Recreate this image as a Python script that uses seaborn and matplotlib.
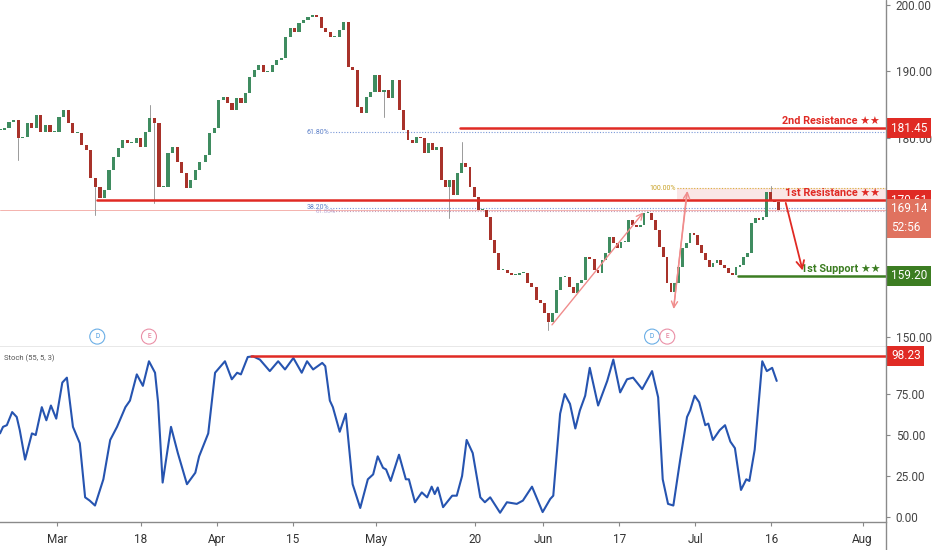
import numpy as np
import pandas as pd
import matplotlib
matplotlib.use("Agg")
import matplotlib.pyplot as plt
import matplotlib.transforms as mtransforms
from matplotlib.lines import Line2D
import seaborn as sns

# trading calendar (US market, 2019) used for the date ticks
holidays = ["2019-02-18", "2019-04-19", "2019-05-27", "2019-07-04"]
tick_dates = ["2019-03-01", "2019-03-18", "2019-04-01", "2019-04-15", "2019-05-01",
              "2019-05-20", "2019-06-03", "2019-06-17", "2019-07-01", "2019-07-16", "2019-08-01"]
tick_labels = ["Mar", "18", "Apr", "15", "May", "20", "Jun", "17", "Jul", "16", "Aug"]

# closes, four stretches (trading days from Mar 1)
span_a = (-7.5, 18.8)
close_a = [181.2, 181.5, 182.4, 182.7, 180.0, 180.1, 182.2, 181.5, 183.4, 180.9, 181.9, 180.9,
           180.9, 183.1, 184.2, 182.2, 180.7, 180.7, 178.9, 178.2, 173.9, 172.6, 170.9, 172.1,
           175.2, 177.1, 178.5, 179.7, 179.2, 179.2, 180.0, 178.6, 180.9, 183.0, 182.2, 172.6,
           172.6, 177.7, 178.6, 176.4, 174.7, 172.4, 173.6, 175.2, 176.4]
span_b = (19.5, 44.2)
close_b = [177.4, 180.7, 181.5, 185.7, 186.1, 185.2, 184.2, 186.0, 185.2, 186.7, 189.2, 190.2,
           191.0, 189.9, 189.9, 191.0, 191.7, 192.0, 195.2, 196.5, 195.9, 197.3, 197.7, 198.2,
           198.5, 198.2, 196.5, 195.9, 195.2, 195.2, 196.2, 197.4, 190.7, 190.2, 184.6, 183.7,
           186.1, 186.9, 189.5, 186.9, 187.2, 186.0, 188.7]
span_c = (45.1, 70.1)
close_c = [184.2, 181.2, 179.7, 179.2, 180.1, 180.0, 177.7, 179.2, 178.2, 178.6, 173.6, 172.6,
           173.6, 171.4, 174.7, 176.2, 175.6, 172.6, 171.1, 169.1, 169.1, 168.1, 164.6, 162.7,
           160.1, 160.1, 159.6, 159.3, 159.3, 159.6, 159.6, 158.1, 157.5, 155.6, 155.1, 153.6,
           152.3, 153.6, 157.1, 159.0, 159.0, 157.5, 156.6, 158.1, 158.6, 162.0, 161.8]
span_d = (70.7, 94.9)
close_d = [160.1, 159.6, 161.6, 162.7, 165.1, 164.2, 163.4, 164.3, 164.3, 167.6, 166.9, 166.6,
           166.9, 168.7, 168.7, 167.6, 166.1, 163.6, 162.0, 158.1, 156.8, 158.1, 160.5, 163.4,
           164.2, 165.7, 165.4, 163.9, 162.7, 161.6, 160.5, 161.1, 161.6, 160.8, 160.4, 159.6,
           159.3, 160.5, 160.8, 162.0, 162.7, 167.2, 167.9, 167.6, 168.1, 171.8, 170.6, 170.3, 169.1]

# long wicks visible on the chart
spike_day = [-5.1, 5.3, 12.0, 12.9, 43.2, 51.7, 53.2, 64.9, 93.7]
spike_price = [176.7, 168.4, 184.9, 170.2, 183.1, 167.9, 179.4, 151.1, 172.7]

# stochastic (55, 5, 3)
stoch_day = [-7.5, -7.1, -6.6, -5.9, -5.3, -4.9, -4.2, -3.3, -2.8, -2.0, -1.4, -0.8, -0.1, 0.7,
             1.3, 2.1, 3.0, 3.7, 4.3, 5.0, 6.1, 7.0, 7.9, 9.0, 9.6, 10.5, 11.3, 12.1, 12.9, 13.3,
             13.9, 15.0, 15.9, 17.1, 18.2, 18.7, 19.9, 20.8, 22.1, 23.0, 23.7, 24.2, 25.1, 25.8,
             26.7, 28.0, 29.1, 30.0, 31.1, 32.2, 32.9, 33.7, 34.9, 35.3, 35.9, 36.3, 37.2, 38.0,
             38.9, 39.9, 40.9, 41.6, 42.2, 42.9, 43.3, 43.9, 45.0, 45.9, 46.3, 47.1, 48.0, 48.7,
             49.3, 49.7, 50.1, 50.8, 52.0, 52.6, 53.3, 53.9, 54.7, 55.7, 56.3, 57.0, 58.3, 59.2,
             60.5, 61.3, 62.5, 63.9, 64.9, 65.3, 66.2, 66.8, 67.5, 68.2, 68.8, 69.5, 70.1, 71.2,
             72.4, 73.2, 74.1, 75.0, 75.8, 77.0, 78.3, 79.1, 79.7, 80.4, 81.1, 82.0, 82.9, 83.3,
             83.9, 84.5, 85.3, 85.7, 86.3, 87.2, 87.9, 88.6, 89.2, 90.0, 90.7, 91.1, 91.8, 92.8,
             93.4, 94.1, 94.7]
stoch_val = [51, 55, 56, 64, 61, 53, 35, 51, 50, 67, 59, 68, 60, 82,
             85, 55, 45, 12, 10, 7, 23, 47, 55, 67, 71, 87, 80, 95, 88, 70,
             21, 55, 39, 20, 27, 37, 51, 88, 95, 84, 88, 87, 97.6, 98,
             96, 89, 95, 90, 97, 88, 95, 90, 94, 92, 71, 67, 52, 63,
             20, 5.5, 23, 26, 37, 30, 29, 22, 38, 23, 23, 9, 15, 12,
             18.5, 14, 18, 6, 13, 13, 25, 47, 39, 12, 9, 12, 2.6, 9,
             8, 10, 18.5, 3, 11, 13, 63, 75, 69, 54, 65, 74, 91, 68,
             83, 96, 76, 84, 85, 78, 89, 73, 23, 8, 7, 35, 61, 65,
             74, 70, 56, 57, 47, 53, 56, 46, 42, 16.5, 23, 22, 41, 95,
             89, 91, 83]

# levels and drawings
res2, res2_from = 181.45, 53.0
res1, res1_from = 170.61, 5.3
sup1, sup1_from = 159.20, 89.6
last_price = 169.14
stoch_high, stoch_high_from = 98.23, 25.5
fib_levels = [180.87, 169.43]
fib_labels = ["61.80%", "38.20%"]
fib_from = 35.9
target_level, target_from = 172.4, 81.6
up_leg = [(64.9, 151.5), (77.4, 169.1)]
swing_up = [(81.1, 154.1), (83.0, 172.4)]
swing_down = [(82.9, 172.1), (81.1, 153.8)]
sell_arrow = [(95.8, 170.6), (98.2, 159.6)]
div_days = [5.3, 78.3]
earn_days = [12.1, 80.3]
price_ticks = [150, 180, 190, 200]   # 160 and 170 sit under the level boxes
stoch_ticks = [0, 25, 50, 75]

RED = "#e02a24"
GREEN = "#3c7d22"
UP = "#3f8c60"
DOWN = "#a8322a"
GRID_TXT = "#454545"

sns.set_style("white")
plt.rcParams["font.family"] = ["Roboto", "DejaVu Sans"]

fig = plt.figure(figsize=(9.32, 5.5), dpi=100)
ax = fig.add_axes([0, 203 / 550, 886 / 932, 347 / 550])
ax2 = fig.add_axes([0, 28 / 550, 886 / 932, 175 / 550])
xmin, xmax = -7.5, 109.08

# candles
days, closes, widths = [], [], []
for (s, e), c in [(span_a, close_a), (span_b, close_b), (span_c, close_c), (span_d, close_d)]:
    d = np.linspace(s, e, len(c))
    days.append(d)
    closes.append(np.array(c))
    widths.append(np.full(len(c), (e - s) / (len(c) - 1) * 0.7))
days = np.concatenate(days)
closes = np.concatenate(closes)
widths = np.concatenate(widths)
opens = np.r_[closes[0], closes[:-1]]

for d, p in zip(spike_day, spike_price):
    i = np.argmin(np.abs(days - d))
    ax.plot([days[i], days[i]], [closes[i], p], color="#9a9a9a", lw=0.7, zorder=2)

colors = [UP if c >= o else DOWN for o, c in zip(opens, closes)]
ax.bar(days, np.maximum(np.abs(closes - opens), 0.15), bottom=np.minimum(opens, closes),
       width=widths, color=colors, linewidth=0, zorder=3)

# price lines
ax.axhline(last_price, color="#f2a6a0", lw=0.6, zorder=1)
for lvl, lab in zip(fib_levels, fib_labels):
    ax.plot([fib_from, xmax], [lvl, lvl], color="#7a98d8", lw=0.8, ls=(0, (1, 1.5)), zorder=1)
    ax.text(fib_from - 0.1, lvl, lab, ha="right", va="center", fontsize=5, color="#5b7fc8")
ax.plot([fib_from, xmax], [169.0, 169.0], color="#c49ab8", lw=0.8, ls=(0, (1, 1.5)), zorder=1)
ax.text(fib_from + 0.8, 168.9, "61.80%", ha="right", va="center", fontsize=4.5,
        color="#a08cc8", alpha=0.7)

ax.fill_between([target_from, xmax], res1, target_level, color="#f6c9c9", alpha=0.45, lw=0, zorder=1)
ax.plot([target_from, xmax], [target_level] * 2, color="#d8b23a", lw=0.8, ls=(0, (1, 1.5)), zorder=1)
ax.text(target_from - 0.2, target_level, "100.00%", ha="right", va="center", fontsize=5,
        color="#c9a227")

ax.plot([res2_from, xmax], [res2] * 2, color=RED, lw=1.8, zorder=4)
ax.plot([res1_from, xmax], [res1] * 2, color=RED, lw=1.8, zorder=4)
ax.plot([sup1_from, xmax], [sup1] * 2, color=GREEN, lw=1.8, zorder=4)
ax.text(108.3, res2 + 0.35, "2nd Resistance ★★", ha="right", va="bottom", color=RED,
        fontsize=7.8, fontweight="bold", zorder=5)
ax.text(108.3, res1 + 0.35, "1st Resistance ★★", ha="right", va="bottom", color=RED,
        fontsize=7.8, fontweight="bold", zorder=5)
ax.text(108.3, sup1 + 0.35, "1st Support ★★", ha="right", va="bottom", color=GREEN,
        fontsize=7.8, fontweight="bold", zorder=5)

pink = dict(arrowstyle="->", color="#f08c8c", lw=1.0, mutation_scale=11)
for a, b in [up_leg, swing_up, swing_down]:
    ax.annotate("", xy=b, xytext=a, arrowprops=pink, zorder=4)
ax.annotate("", xy=sell_arrow[1], xytext=sell_arrow[0],
            arrowprops=dict(arrowstyle="->", color=RED, lw=1.3, mutation_scale=14), zorder=5)

# dividend / earnings markers
mk = mtransforms.blended_transform_factory(ax.transData, ax.transAxes)
for d in div_days:
    ax.text(d, 0.03, "D", transform=mk, ha="center", va="center", fontsize=4.8, color="#4a9be0",
            bbox=dict(boxstyle="circle,pad=0.6", fc="white", ec="#6aaee6", lw=0.8))
for d in earn_days:
    ax.text(d, 0.03, "E", transform=mk, ha="center", va="center", fontsize=4.8, color="#e06a8a",
            bbox=dict(boxstyle="circle,pad=0.6", fc="white", ec="#ea8fa6", lw=0.8))

# stochastic panel
sns.lineplot(x=stoch_day, y=stoch_val, ax=ax2, color="#2654b0", lw=1.5, estimator=None, sort=False)
ax2.plot([stoch_high_from, xmax], [stoch_high] * 2, color=RED, lw=1.8)
ax2.text(0.005, 0.935, "Stoch (55, 5, 3)", transform=ax2.transAxes, fontsize=5.5, color="#555555",
         va="center")

# axes cosmetics
ax.set_xlim(xmin, xmax)
ax.set_ylim(148.49, 200.75)
ax2.set_xlim(xmin, xmax)
ax2.set_ylim(-3.05, 103.7)

ax.yaxis.tick_right()
ax.set_yticks(price_ticks)
ax.set_yticklabels([f"{v:.2f}" for v in price_ticks])
ax.set_xticks([])
ax2.yaxis.tick_right()
ax2.set_yticks(stoch_ticks)
ax2.set_yticklabels([f"{v:.2f}" for v in stoch_ticks])

cal = pd.bdate_range("2019-02-01", "2019-08-30", freq="C", holidays=holidays)
day0 = cal.get_loc(pd.Timestamp("2019-03-01"))
tick_pos = cal.get_indexer(pd.to_datetime(tick_dates)) - day0
ax2.set_xticks(tick_pos)
ax2.set_xticklabels(tick_labels)

for a in (ax, ax2):
    a.tick_params(axis="y", right=True, length=3, width=0.8, color="#888888", labelsize=8.5,
                  labelcolor=GRID_TXT, pad=4)
    for side in ("left", "top", "right"):
        a.spines[side].set_visible(False)
    a.spines["bottom"].set_color("#8a8a8a")
    a.spines["bottom"].set_linewidth(1.0)
    a.set_xlabel("")
    a.set_ylabel("")
ax2.tick_params(axis="x", bottom=True, length=3, width=0.8, color="#888888", labelsize=8.5,
                labelcolor="#333333", pad=5)

fig.add_artist(Line2D([886 / 932] * 2, [0, 1], transform=fig.transFigure, color="#8a8a8a", lw=1.0))

# right-hand price boxes
def price_box(a, y, text, fc, va="center"):
    tr = mtransforms.blended_transform_factory(a.transAxes, a.transData)
    a.text(1 + 5 / 886, y, text, transform=tr, ha="left", va=va, fontsize=8.5, color="white",
           clip_on=False, zorder=10, linespacing=1.6,
           bbox=dict(boxstyle="square,pad=0.3", fc=fc, ec="none"))

price_box(ax, res2, "181.45", RED)
price_box(ax, res1, "170.61", RED)
price_box(ax, 170.3, "169.14\n52:56", "#e0725f", va="top")
price_box(ax, sup1, "159.20", GREEN)
price_box(ax2, stoch_high, "98.23", RED)

fig.savefig("out.png", dpi=100, facecolor="white")
